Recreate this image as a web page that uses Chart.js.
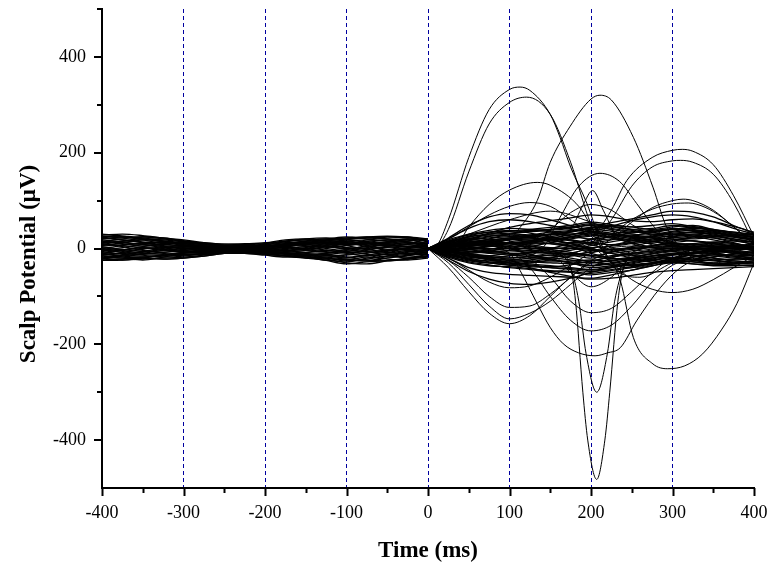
<!DOCTYPE html>
<html>
<head>
<meta charset="utf-8">
<script src="https://cdn.jsdelivr.net/npm/chart.js@4.4.0/dist/chart.umd.min.js"></script>
<style>
  html, body { margin: 0; padding: 0; background: #fff; }
  canvas { display: block; }
</style>
</head>
<body>
<canvas id="eegChart" width="778" height="564"></canvas>
<script>
// time grids (ms)
const preTimes = [-400, -375, -350, -325, -300, -275, -250, -225, -200, -175, -150, -125, -100, -75, -50, -25, 0];
const postTimes = [0, 25, 50, 75, 100, 125, 150, 175, 200, 225, 250, 275, 300, 325, 350, 375, 400];

// pre-stimulus channels (uV), one row per trace, values at preTimes
const preBand = [
  [28, 30, 27, 22, 18, 12, 9, 8, 10, 15, 20, 22, 20, 22, 25, 24, 15],
  [20, 22, 24, 20, 15, 10, 7, 6, 8, 12, 15, 18, 22, 24, 20, 18, 10],
  [12, 15, 18, 16, 12, 8, 4, 3, 5, 8, 10, 12, 15, 18, 15, 12, 5],
  [5, 8, 10, 8, 6, 4, 2, 0, 3, 5, 8, 10, 8, 10, 12, 8, 2],
  [-5, -2, 0, 2, 3, 2, 0, -2, 0, 2, 4, 5, 2, 0, 3, 5, 0],
  [-12, -10, -8, -5, -2, 0, -2, -4, -5, -2, 0, -3, -8, -6, -4, -2, -5],
  [-18, -20, -18, -15, -10, -8, -6, -7, -8, -10, -12, -15, -18, -15, -12, -10, -8],
  [-25, -24, -22, -20, -18, -14, -10, -10, -12, -15, -18, -25, -32, -28, -25, -20, -12],
  [15, 10, 5, 8, 12, 10, 5, 2, -2, -5, -2, 4, 10, 15, 18, 14, 8],
  [-8, -3, 4, 10, 14, 10, 4, -2, -6, -4, 2, 8, 12, 6, -2, -6, -3],
  [22, 18, 12, 6, 2, -2, -4, -2, 2, 6, 12, 18, 16, 10, 6, 10, 12],
  [0, 6, 12, 14, 10, 5, 0, -3, -8, -12, -15, -10, -4, 2, 8, 12, 6],
  [-20, -14, -6, 0, 4, 4, 2, 0, 4, 8, 6, 0, -6, -12, -18, -15, -10],
  [10, 4, -4, -10, -14, -12, -8, -5, -2, 3, 8, 4, -2, -8, -4, 2, 4],
  [-2, -8, -14, -18, -16, -10, -6, -4, -6, -8, -4, 2, 6, 10, 14, 18, 10],
  [25, 26, 22, 16, 10, 6, 3, 2, 6, 10, 16, 20, 18, 14, 10, 4, 0],
  [6, 12, 18, 20, 16, 10, 6, 4, 10, 16, 18, 14, 6, -2, -8, -12, -6],
  [-15, -18, -20, -22, -20, -16, -10, -8, -10, -14, -18, -20, -26, -22, -16, -8, -2],
  [18, 14, 8, 2, -4, -6, -4, 0, 4, 2, -4, -8, -12, -4, 4, 8, 3],
  [-10, -4, 2, -2, -8, -10, -8, -6, -10, -16, -20, -24, -28, -20, -12, -18, -15],
  [2, -4, -10, -12, -8, -2, 2, 4, 6, 4, -2, -6, -2, 6, 12, 20, 14],
  [-22, -16, -10, -4, 0, -2, -6, -8, -12, -6, 0, 6, 10, 4, -4, -10, -4],
  [8, 16, 20, 14, 6, 0, -4, -6, -2, 8, 14, 10, 2, -6, -14, -20, -16],
  [14, 20, 25, 22, 16, 12, 9, 10, 12, 18, 20, 16, 10, 18, 24, 22, 18],
  [-6, -12, -16, -14, -10, -6, -2, 0, -4, -10, -14, -18, -22, -26, -20, -14, -8],
  [-16, -20, -24, -18, -12, -12, -9, -10, -14, -18, -16, -12, -18, -24, -26, -22, -18],
  [26, 24, 20, 18, 14, 10, 6, 4, 8, 14, 18, 20, 24, 20, 16, 20, 16],
  [-24, -22, -20, -22, -20, -16, -10, -8, -12, -16, -20, -22, -30, -32, -26, -22, -16],
  [4, -2, -6, -2, 4, 6, 4, 2, 0, -4, -8, -10, -6, -2, 2, -4, -8],
  [-4, 2, 8, 12, 8, 2, -4, -6, -2, 4, 10, 14, 12, 8, 4, 0, -2],
  [16, 12, 8, 4, 0, -4, -6, -4, -2, 0, 4, 10, 18, 22, 20, 14, 8],
  [-14, -8, -2, 4, 6, 4, 0, -4, -8, -10, -8, -4, -10, -16, -10, -4, 0],
  [20, 24, 18, 10, 4, 2, 2, 2, 4, 8, 12, 6, 0, 4, 10, 16, 20],
  [-10, -14, -12, -8, -6, -6, -4, -2, -4, -6, -10, -14, -20, -14, -8, -12, -12],
  [30, 26, 20, 14, 8, 4, 0, -2, 2, 6, 10, 16, 20, 24, 26, 24, 20],
  [-20, -24, -20, -14, -8, -4, -2, -2, -6, -12, -16, -20, -24, -18, -22, -24, -20],
  [10, 6, 2, -2, -6, -8, -6, -2, 2, 6, 12, 16, 14, 12, 8, 4, 6],
  [0, -6, -12, -8, -4, -2, 2, 0, -4, -8, -12, -16, -14, -10, -6, 2, 8],
  [24, 18, 14, 12, 10, 8, 6, 4, 6, 10, 14, 12, 8, 12, 18, 14, 10],
  [-12, -16, -18, -16, -14, -10, -6, -4, -6, -10, -14, -20, -24, -26, -16, -6, 2]
];

// post-stimulus channels staying near baseline, values at postTimes
const postBand = [
  [0, 18, 30, 38, 42, 40, 35, 30, 38, 48, 45, 40, 45, 48, 40, 32, 28],
  [0, 14, 25, 30, 32, 35, 38, 42, 50, 45, 40, 42, 48, 44, 38, 30, 22],
  [0, 10, 18, 22, 25, 28, 30, 26, 20, 25, 32, 38, 40, 36, 30, 24, 18],
  [0, 6, 12, 15, 18, 20, 22, 18, 12, 8, 12, 20, 28, 30, 26, 20, 12],
  [0, 3, 6, 8, 10, 12, 10, 6, 2, 5, 10, 15, 18, 16, 12, 8, 5],
  [0, 0, 2, 4, 5, 4, 2, 0, -4, -2, 2, 6, 10, 8, 4, 0, -2],
  [0, -3, -5, -6, -5, -8, -10, -12, -8, -2, 0, 2, 4, 2, -2, -6, -8],
  [0, -6, -12, -15, -18, -20, -18, -15, -20, -15, -10, -5, 0, -4, -10, -14, -15],
  [0, -10, -18, -22, -25, -28, -30, -32, -35, -30, -22, -15, -10, -14, -20, -24, -22],
  [0, -14, -24, -30, -35, -38, -40, -42, -45, -40, -32, -25, -20, -25, -30, -32, -28],
  [0, -18, -30, -36, -38, -42, -46, -48, -52, -46, -40, -32, -28, -32, -36, -36, -34],
  [0, 8, 16, 25, 30, 28, 20, 10, 0, -10, -5, 5, 15, 22, 25, 18, 8],
  [0, -5, -10, -6, 2, 10, 18, 25, 30, 22, 12, 2, -6, -10, -6, 2, 10],
  [0, 12, 22, 18, 10, 2, -6, -12, -15, -8, 4, 14, 24, 28, 22, 12, 2],
  [0, -8, -15, -20, -15, -8, 0, 10, 18, 25, 28, 22, 12, 4, -4, -10, -14],
  [0, 4, 10, 20, 30, 36, 40, 45, 52, 46, 38, 30, 36, 42, 38, 30, 24],
  [0, -4, -12, -22, -30, -36, -38, -34, -26, -18, -12, -8, -2, 6, 12, 16, 14],
  [0, 15, 20, 12, 0, -12, -22, -30, -36, -32, -24, -16, -10, -4, 2, 6, 4],
  [0, -12, -20, -28, -32, -30, -24, -16, -6, 6, 16, 24, 30, 26, 18, 10, 0],
  [0, 6, 4, -4, -12, -18, -24, -28, -30, -25, -20, -18, -22, -28, -32, -30, -26],
  [0, 10, 20, 30, 36, 40, 44, 48, 55, 50, 45, 48, 52, 46, 40, 34, 30],
  [0, -2, 4, 12, 18, 22, 14, 4, -10, -20, -26, -22, -14, -8, -4, -8, -12],
  [0, -16, -28, -34, -40, -44, -48, -50, -55, -50, -45, -36, -26, -22, -18, -10, -4],
  [0, 2, -2, -8, -4, 4, 12, 20, 26, 30, 24, 16, 8, 0, -8, -16, -20],
  [0, 8, 14, 10, 4, -2, -8, -4, 6, 14, 20, 26, 32, 34, 28, 20, 14],
  [0, -6, -8, -2, 6, 14, 20, 16, 8, -4, -14, -24, -30, -26, -18, -12, -6],
  [0, 12, 26, 34, 38, 32, 24, 18, 12, 18, 26, 34, 40, 38, 32, 26, 20],
  [0, -10, -22, -30, -34, -28, -20, -10, -2, -10, -20, -28, -22, -14, -20, -26, -30],
  [0, 20, 42, 56, 60, 56, 48, 40, 34, 28, 24, 22, 20, 16, 10, 4, 0],
  [0, 22, 48, 66, 73, 70, 60, 48, 36, 28, 20, 14, 10, 8, 6, 4, 2],
  [0, -20, -40, -50, -54, -56, -58, -60, -62, -55, -45, -36, -30, -32, -34, -32, -30],
  [0, -24, -48, -64, -73, -75, -70, -62, -50, -40, -34, -30, -28, -26, -24, -22, -20],
  [0, 6, 18, 32, 44, 52, 58, 64, 70, 66, 58, 56, 60, 62, 56, 46, 34],
  [0, -4, -10, -20, -30, -40, -50, -58, -64, -62, -56, -50, -46, -44, -42, -40, -38],
  [0, 5, 8, 10, 12, 14, 18, 24, 34, 46, 58, 66, 70, 66, 56, 42, 30],
  [0, -5, -2, 4, 10, 16, 24, 34, 44, 54, 62, 70, 78, 76, 66, 48, 32],
  [0, 16, 28, 34, 36, 38, 40, 44, 48, 42, 36, 34, 40, 44, 36, 28, 24],
  [0, -12, -22, -26, -28, -32, -36, -40, -44, -38, -30, -24, -18, -22, -26, -30, -32],
  [0, 8, 14, 18, 22, 26, 30, 34, 40, 36, 30, 28, 34, 38, 34, 26, 18],
  [0, -8, -14, -18, -22, -26, -28, -26, -24, -28, -34, -30, -20, -14, -16, -20, -24],
  [0, 4, 8, 14, 20, 24, 28, 30, 32, 30, 26, 24, 26, 30, 32, 28, 26],
  [0, -2, -6, -10, -14, -16, -14, -10, -14, -20, -24, -20, -14, -10, -12, -16, -18],
  [0, 10, 16, 14, 12, 16, 22, 28, 36, 32, 24, 18, 22, 26, 22, 16, 10],
  [0, -14, -20, -16, -10, -14, -22, -30, -40, -36, -28, -20, -12, -16, -24, -28, -26],
  [0, 6, 10, 6, 0, -4, -2, 4, 14, 20, 16, 10, 6, 10, 14, 10, 4],
  [0, -4, -2, 6, 14, 18, 16, 10, 0, -6, -2, 6, 12, 16, 10, 4, -4],
  [0, 12, 20, 26, 28, 24, 18, 12, 20, 30, 34, 30, 24, 20, 24, 28, 30],
  [0, -10, -16, -20, -24, -20, -14, -20, -28, -34, -36, -30, -24, -18, -14, -18, -22],
  [0, 2, 8, 16, 22, 28, 34, 38, 44, 40, 34, 36, 42, 40, 34, 26, 20],
  [0, -6, -16, -24, -30, -34, -40, -44, -48, -44, -38, -32, -26, -28, -32, -34, -36],
  [0, 14, 24, 28, 26, 22, 18, 22, 28, 24, 18, 14, 18, 24, 28, 24, 16],
  [0, -16, -26, -30, -28, -24, -20, -24, -30, -26, -20, -16, -12, -8, -6, -10, -16],
  [0, 0, 4, 10, 18, 24, 30, 36, 42, 46, 40, 34, 30, 34, 38, 34, 28],
  [0, -2, 0, 6, 12, 6, -2, -8, -16, -22, -18, -10, -4, 2, -2, -6, -10]
];

// channels with large evoked deflections, [time, uV] pairs
const evoked = [
  [[0, 0], [10, 5], [25, 60], [50, 190], [75, 290], [100, 332], [113, 337], [125, 330], [150, 280], [162, 232], [175, 170], [195, 94], [215, 0], [235, -50], [260, -60], [300, -30], [350, -8], [400, 0]],
  [[0, 0], [10, 3], [25, 40], [50, 160], [75, 260], [100, 305], [121, 316], [150, 280], [175, 180], [200, 50], [225, -30], [250, -40], [300, -20], [350, 10], [400, -5]],
  [[0, 0], [50, 10], [100, 20], [113, 44], [134, 100], [150, 180], [174, 254], [200, 312], [211, 320], [225, 310], [252, 232], [276, 128], [293, 44], [325, -20], [350, -30], [400, -10]],
  [[0, 0], [100, -10], [175, 0], [200, 20], [225, 80], [244, 142], [275, 190], [300, 205], [312, 207], [325, 203], [350, 175], [375, 110], [400, 25]],
  [[0, 0], [100, 10], [175, -10], [200, 10], [225, 60], [250, 130], [275, 170], [300, 183], [310, 184], [325, 180], [350, 155], [375, 95], [400, 10]],
  [[0, 0], [31, 0], [50, 45], [75, 92], [100, 122], [134, 138], [150, 132], [186, 86], [210, 20], [250, -10], [300, -20], [350, 0], [400, 10]],
  [[0, 0], [100, -20], [140, 0], [162, 65], [185, 130], [211, 157], [235, 140], [256, 94], [280, 40], [300, 10], [350, -10], [400, 0]],
  [[0, 0], [100, 20], [200, 0], [225, 20], [250, 55], [275, 85], [300, 100], [313, 103], [325, 100], [350, 80], [375, 45], [400, 10]],
  [[0, 0], [100, -10], [200, 10], [225, 30], [250, 60], [275, 82], [300, 93], [320, 95], [340, 86], [360, 66], [380, 38], [400, 8]],
  [[0, 0], [25, 20], [50, 45], [75, 70], [100, 88], [125, 96], [150, 88], [175, 60], [200, 30], [225, 0], [250, -15], [300, -5], [400, 5]],
  [[0, 0], [100, 10], [150, 20], [175, 40], [190, 90], [202, 121], [215, 80], [230, 30], [250, 10], [300, 0], [400, 0]],
  [[0, 0], [100, 0], [150, 40], [175, 75], [200, 92], [225, 80], [250, 50], [300, 10], [400, 0]],
  [[0, 0], [50, 30], [100, 60], [150, 78], [200, 55], [250, 22], [300, 0], [400, 0]],
  [[0, 0], [50, -10], [100, -20], [160, -10], [175, -40], [181, -110], [190, -300], [196, -400], [207, -482], [217, -400], [223, -300], [233, -110], [240, -40], [255, -5], [325, 10], [400, 0]],
  [[0, 0], [100, 10], [160, -10], [175, -40], [185, -110], [194, -220], [207, -300], [220, -220], [229, -110], [240, -40], [255, -5], [400, 5]],
  [[0, 0], [100, 10], [200, 10], [222, -20], [236, -67], [252, -186], [276, -241], [294, -251], [315, -245], [337, -220], [360, -170], [379, -115], [400, -30]],
  [[0, 0], [25, -40], [50, -90], [75, -135], [100, -157], [125, -140], [150, -100], [175, -60], [200, -30], [250, -10], [300, 0], [400, 0]],
  [[0, 0], [25, -30], [50, -75], [75, -120], [100, -147], [125, -135], [150, -110], [175, -75], [200, -40], [250, -10], [400, 0]],
  [[0, 0], [25, -25], [50, -60], [75, -100], [100, -123], [125, -120], [150, -95], [175, -60], [200, -25], [250, 0], [400, 5]],
  [[0, 0], [25, -20], [50, -45], [75, -70], [100, -82], [125, -78], [150, -60], [175, -35], [200, -10], [250, 5], [400, 0]],
  [[0, 0], [50, 10], [100, -10], [113, -46], [134, -115], [150, -165], [166, -199], [185, -218], [205, -224], [220, -218], [236, -207], [256, -151], [285, -82], [310, -40], [350, -10], [400, 0]],
  [[0, 0], [100, -10], [125, -40], [150, -100], [175, -150], [200, -172], [225, -160], [250, -120], [275, -70], [300, -35], [350, -10], [400, 0]],
  [[0, 0], [100, 0], [150, -60], [175, -110], [200, -134], [225, -125], [250, -90], [275, -50], [300, -20], [400, 0]],
  [[0, 0], [200, 0], [225, -30], [250, -65], [275, -85], [300, -92], [325, -85], [350, -65], [375, -40], [400, -15]],
  [[0, 0], [150, -10], [175, -50], [200, -80], [225, -60], [250, -20], [400, 0]]
];

const xTicks = [-400, -300, -200, -100, 0, 100, 200, 300, 400];
const yLabelled = [-400, -200, 0, 200, 400];

const serif = '"Liberation Serif", "Times New Roman", serif';

function trace(points, width) {
  return {
    data: points.map(p => ({ x: p[0], y: p[1] })),
    borderColor: '#000',
    borderWidth: width,
    pointRadius: 0,
    fill: false,
    cubicInterpolationMode: 'monotone'
  };
}

const datasets = [];
preBand.forEach(row => datasets.push(trace(row.map((v, i) => [preTimes[i], v]), 1.3)));
postBand.forEach(row => datasets.push(trace(row.map((v, i) => [postTimes[i], v]), 1.3)));
evoked.forEach(pts => datasets.push(trace(pts, 1)));

// tick marks (major / minor) and axis titles
const decorations = {
  id: 'decorations',
  afterDraw(chart) {
    const { ctx, scales: { x, y }, chartArea } = chart;
    ctx.save();
    ctx.strokeStyle = '#000';
    ctx.lineWidth = 2;
    ctx.beginPath();
    for (let v = -400; v <= 400; v += 50) {
      const px = Math.round(x.getPixelForValue(v)) + 0.5;
      const len = v % 100 === 0 ? 8 : 5;
      ctx.moveTo(px, chartArea.bottom);
      ctx.lineTo(px, chartArea.bottom + len);
    }
    for (let v = -400; v <= 500; v += 100) {
      const py = Math.round(y.getPixelForValue(v));
      const len = yLabelled.includes(v) ? 8 : 5;
      ctx.moveTo(chartArea.left, py);
      ctx.lineTo(chartArea.left - len, py);
    }
    ctx.stroke();

    ctx.fillStyle = '#000';
    ctx.font = 'bold 23px ' + serif;
    ctx.textAlign = 'center';
    ctx.textBaseline = 'alphabetic';
    ctx.fillText('Time (ms)', (chartArea.left + chartArea.right) / 2, 557);
    ctx.translate(35, 264);
    ctx.rotate(-Math.PI / 2);
    ctx.fillText('Scalp Potential (\u03bcV)', 0, 0);
    ctx.restore();
  }
};

new Chart(document.getElementById('eegChart'), {
  type: 'line',
  data: { datasets: datasets },
  options: {
    responsive: false,
    animation: false,
    devicePixelRatio: 1,
    layout: { padding: { top: 9, right: 24, left: 0, bottom: 0 } },
    plugins: {
      legend: { display: false },
      tooltip: { enabled: false }
    },
    scales: {
      x: {
        type: 'linear',
        min: -400,
        max: 400,
        afterFit: s => { s.height = 76; s.paddingLeft = 0; s.paddingRight = 0; },
        afterBuildTicks: s => { s.ticks = xTicks.map(v => ({ value: v })); },
        ticks: {
          autoSkip: false,
          maxRotation: 0,
          padding: 14,
          color: '#000',
          font: { family: serif, size: 18 },
          callback: v => String(v)
        },
        grid: {
          drawTicks: false,
          lineWidth: 1,
          color: c => (c.tick && Math.abs(c.tick.value) < 400) ? '#0000a0' : 'rgba(0,0,0,0)'
        },
        border: { display: true, color: '#000', width: 2, dash: [4, 3] }
      },
      y: {
        type: 'linear',
        min: -500,
        max: 500,
        afterFit: s => { s.width = 102; s.paddingTop = 0; s.paddingBottom = 0; },
        afterBuildTicks: s => { s.ticks = yLabelled.map(v => ({ value: v })); },
        ticks: {
          autoSkip: false,
          padding: 16,
          color: '#000',
          font: { family: serif, size: 18 },
          callback: v => String(v)
        },
        grid: { display: false, drawTicks: false },
        border: { display: true, color: '#000', width: 2 }
      }
    }
  },
  plugins: [decorations]
});
</script>
</body>
</html>
